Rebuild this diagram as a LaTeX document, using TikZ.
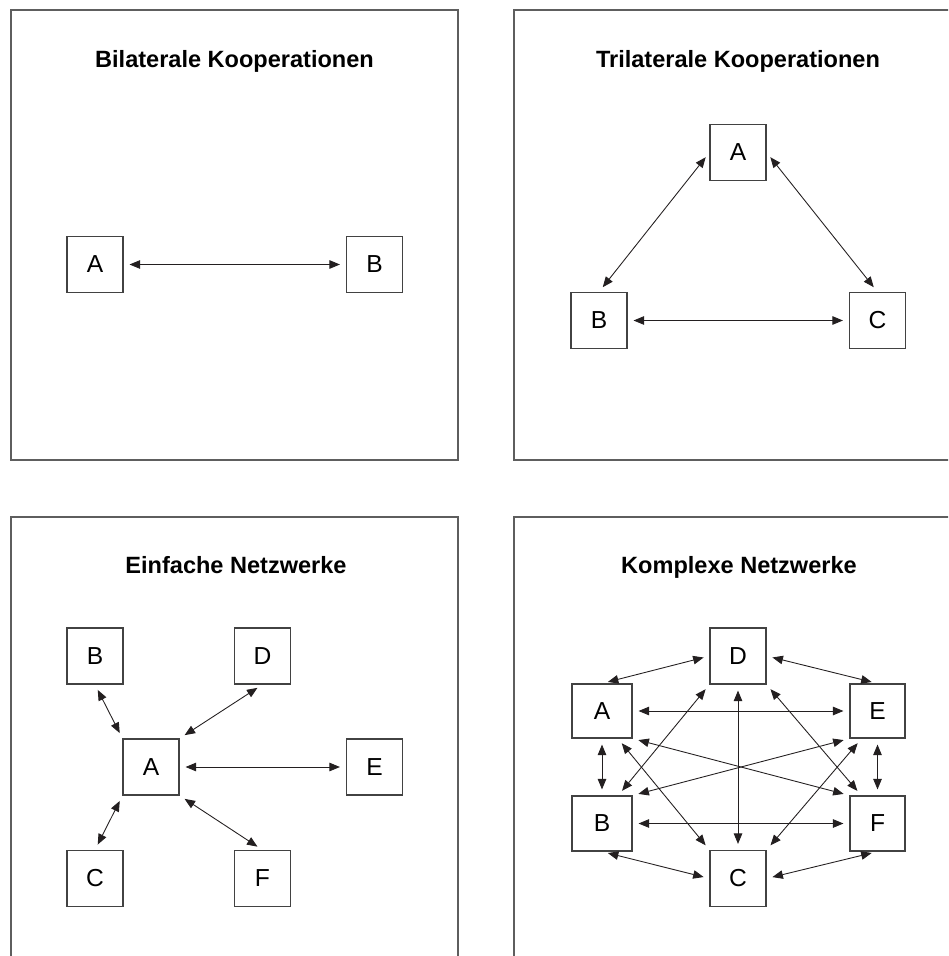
\documentclass[tikz,border=0pt]{standalone}
\usepackage{fontspec}
\setmainfont{Liberation Sans}
\usetikzlibrary{arrows.meta, positioning}
\definecolor{rahmen}{HTML}{5E5E5E}
\definecolor{pfeil}{HTML}{231F20}
\tikzset{
  feld/.style={draw=rahmen, line width=0.8pt},
  kasten/.style={draw=rahmen!70!black, line width=0.65pt, inner sep=0pt,
    minimum width=1.12cm, minimum height=1.12cm, font=\fontsize{14}{16}\selectfont},
  titel/.style={anchor=base, font=\fontsize{13.4}{15}\selectfont\bfseries},
  bez/.style={draw=pfeil, line width=0.5pt,
    {Triangle[length=0.21cm,width=0.17cm]}-{Triangle[length=0.21cm,width=0.17cm]},
    shorten <=0.12cm, shorten >=0.12cm}
}
\begin{document}
\begin{tikzpicture}[x=0.02cm,y=-0.02cm]
        \useasboundingbox (0,0) rectangle (948,956);
        \clip (0,0) rectangle (948,956);
        % Rahmen
            \draw[feld] (11,10) rectangle (458,460);
            \draw[feld] (514,10) rectangle (961,460);
            \draw[feld] (11,517) rectangle (458,967);
            \draw[feld] (514,517) rectangle (961,967);
        % bilateral
            \node[titel] at (234.5,68) {Bilaterale Kooperationen};
            \node[kasten] (bA) at (95,264.5) {A};
            \node[kasten] (bB) at (374.5,264.5) {B};
            \draw[bez] (bA.east) -- (bB.west);
        % trilateral
            \node[titel] at (738,68) {Trilaterale Kooperationen};
            \node[kasten] (tA) at (738,152.5) {A};
            \node[kasten] (tB) at (599,320.5) {B};
            \node[kasten] (tC) at (877.5,320.5) {C};
            \draw[bez] (tA.west) -- (tB.north);
            \draw[bez] (tA.east) -- (tC.north);
            \draw[bez] (tB.east) -- (tC.west);
        % einfache Netzwerke
            \node[titel] at (236,573) {Einfache Netzwerke};
            \node[kasten] (eB) at (95,656) {B};
            \node[kasten] (eD) at (262.5,656) {D};
            \node[kasten] (eA) at (151,767) {A};
            \node[kasten] (eE) at (374.5,767) {E};
            \node[kasten] (eC) at (95,878.5) {C};
            \node[kasten] (eF) at (262.5,878.5) {F};
            \draw[bez] (eB.south) -- (eA.north west);
            \draw[bez] (eD.south) -- (eA.north east);
            \draw[bez] (eA.east) -- (eE.west);
            \draw[bez] (eA.south west) -- (eC.north);
            \draw[bez] (eA.south east) -- (eF.north);
        % komplexe Netzwerke
            \node[titel] at (739,573) {Komplexe Netzwerke};
            \node[kasten] (kD) at (738,656) {D};
            \node[kasten, minimum width=1.2cm, minimum height=1.08cm] (kA) at (602,711) {A};
            \node[kasten, minimum width=1.1cm, minimum height=1.08cm] (kE) at (877.5,711) {E};
            \node[kasten, minimum width=1.2cm, minimum height=1.1cm] (kB) at (602,823.5) {B};
            \node[kasten, minimum width=1.1cm, minimum height=1.1cm] (kF) at (877.5,823.5) {F};
            \node[kasten] (kC) at (738,878.5) {C};
            \draw[bez] (kA.north) -- (kD.west);
            \draw[bez] (kD.east) -- (kE.north);
            \draw[bez] (kA.east) -- (kE.west);
            \draw[bez] (kA.south) -- (kB.north);
            \draw[bez] (kE.south) -- (kF.north);
            \draw[bez] (kD.south) -- (kC.north);
            \draw[bez] (kB.60) -- (kD.south west);
            \draw[bez] (kA.-60) -- (kC.north west);
            \draw[bez] (kD.south east) -- (kF.120);
            \draw[bez] (kE.-120) -- (kC.north east);
            \draw[bez] (kA.south east) -- (kF.north west);
            \draw[bez] (kE.south west) -- (kB.north east);
            \draw[bez] (kB.east) -- (kF.west);
            \draw[bez] (kB.south) -- (kC.west);
            \draw[bez] (kC.east) -- (kF.south);
        \end{tikzpicture}
\end{document}
